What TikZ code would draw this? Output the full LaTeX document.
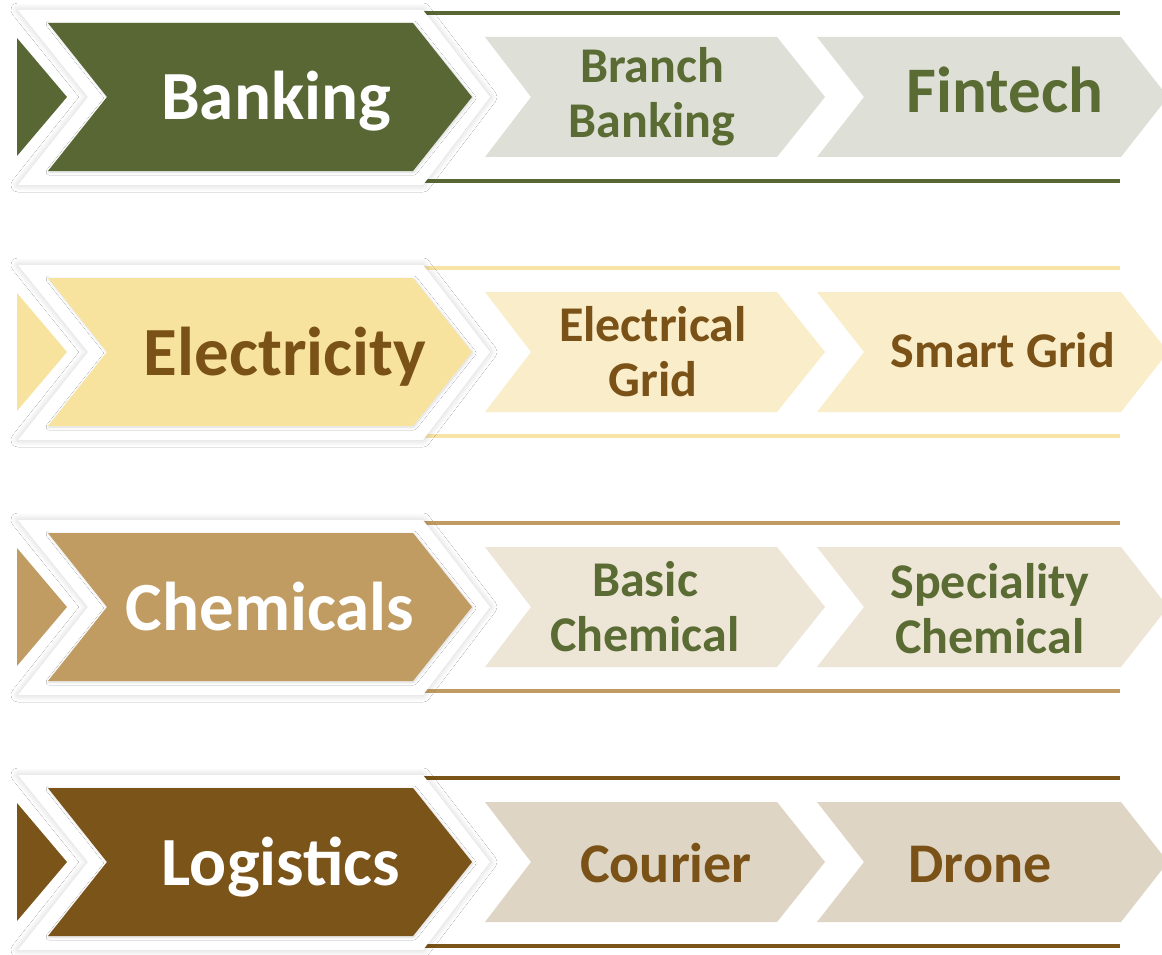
\documentclass[tikz,border=0pt]{standalone}
\usepackage{fontspec}
\setmainfont{Carlito}
\usetikzlibrary{shadows.blur}
\definecolor{gmain}{HTML}{596735}
\definecolor{gsub}{HTML}{DEE0D7}
\definecolor{gtext}{HTML}{5A6B33}
\definecolor{ymain}{HTML}{F8E39E}
\definecolor{ysub}{HTML}{FAEDC9}
\definecolor{yline}{HTML}{F7E3A5}
\definecolor{btext}{HTML}{7A5217}
\definecolor{tmain}{HTML}{C09C62}
\definecolor{tsub}{HTML}{EDE5D6}
\definecolor{bmain}{HTML}{7A5418}
\definecolor{bsub}{HTML}{DED5C5}
\tikzset{
  bgshadow/.style={blur shadow={shadow xshift=0pt, shadow yshift=0pt, shadow blur radius=7pt, shadow opacity=18, shadow blur steps=24}},
  mainshadow/.style={blur shadow={shadow xshift=1pt, shadow yshift=-1pt, shadow blur radius=3pt, shadow opacity=15, shadow blur steps=12}},
  mainlbl/.style={font=\fontsize{69}{69}\selectfont\bfseries, anchor=base, inner sep=0pt},
  sublbl/.style={font=\fontsize{50}{55}\selectfont\bfseries, align=center, inner sep=0pt},
  sublblone/.style={font=\fontsize{#1}{#1}\selectfont\bfseries, anchor=base, inner sep=0pt},
}
\begin{document}
\begin{tikzpicture}[x=1pt,y=-1pt]
\clip (0,0) rectangle (1162,955);
\fill[white] (0,0) rectangle (1162,955);
\foreach \c/\mc/\sc/\lc in {97/gmain/gsub/gmain, 352/ymain/ysub/yline, 607/tmain/tsub/tmain, 862/bmain/bsub/bmain} {
  \draw[line width=4pt, \lc] (415,{\c-84}) -- (1120,{\c-84});
  \draw[line width=4pt, \lc] (415,{\c+84}) -- (1120,{\c+84});
  \fill[white, bgshadow] (18,{\c-87}) -- (423,{\c-87}) -- (490,\c) -- (423,{\c+88}) -- (18,{\c+88}) -- (88,\c) -- cycle;
  \fill[\mc] (17,{\c-59}) -- (67,\c) -- (17,{\c+59}) -- cycle;
  \fill[\mc, mainshadow] (48,{\c-74}) -- (413,{\c-74}) -- (472,\c) -- (413,{\c+74}) -- (48,{\c+74}) -- (107,\c) -- cycle;
  \fill[\sc] (485,{\c-60}) -- (777,{\c-60}) -- (825,\c) -- (777,{\c+60}) -- (485,{\c+60}) -- (531,\c) -- cycle;
  \fill[\sc] (817,{\c-60}) -- (1121,{\c-60}) -- (1168,\c) -- (1121,{\c+60}) -- (817,{\c+60}) -- (864,\c) -- cycle;
}
% main labels
\node[mainlbl, text=white] (banking) at (276,120) {Banking};
\node[mainlbl, text=btext] (electricity) at (285,375) {Electricity};
\node[mainlbl, text=white] (chemicals) at (270,630) {Chemicals};
\node[mainlbl, text=white] (logistics) at (281,885) {Logistics};
% sub labels
\node[sublbl, text=gtext] (branch) at (652,97) {Branch\\Banking};
\node[sublblone=65, text=gtext] (fintech) at (1005,113) {Fintech};
\node[sublbl, text=btext] (egrid) at (653,352) {Electrical\\Grid};
\node[sublblone=50, text=btext] (sgrid) at (1003,367) {Smart Grid};
\node[sublbl, text=gtext] (basic) at (645,607) {Basic\\Chemical};
\node[sublbl, text=gtext] (special) at (990,609) {Speciality\\Chemical};
\node[sublblone=56, text=btext] (courier) at (666,882) {Courier};
\node[sublblone=56, text=btext] (drone) at (980,882) {Drone};
\end{tikzpicture}
\end{document}
